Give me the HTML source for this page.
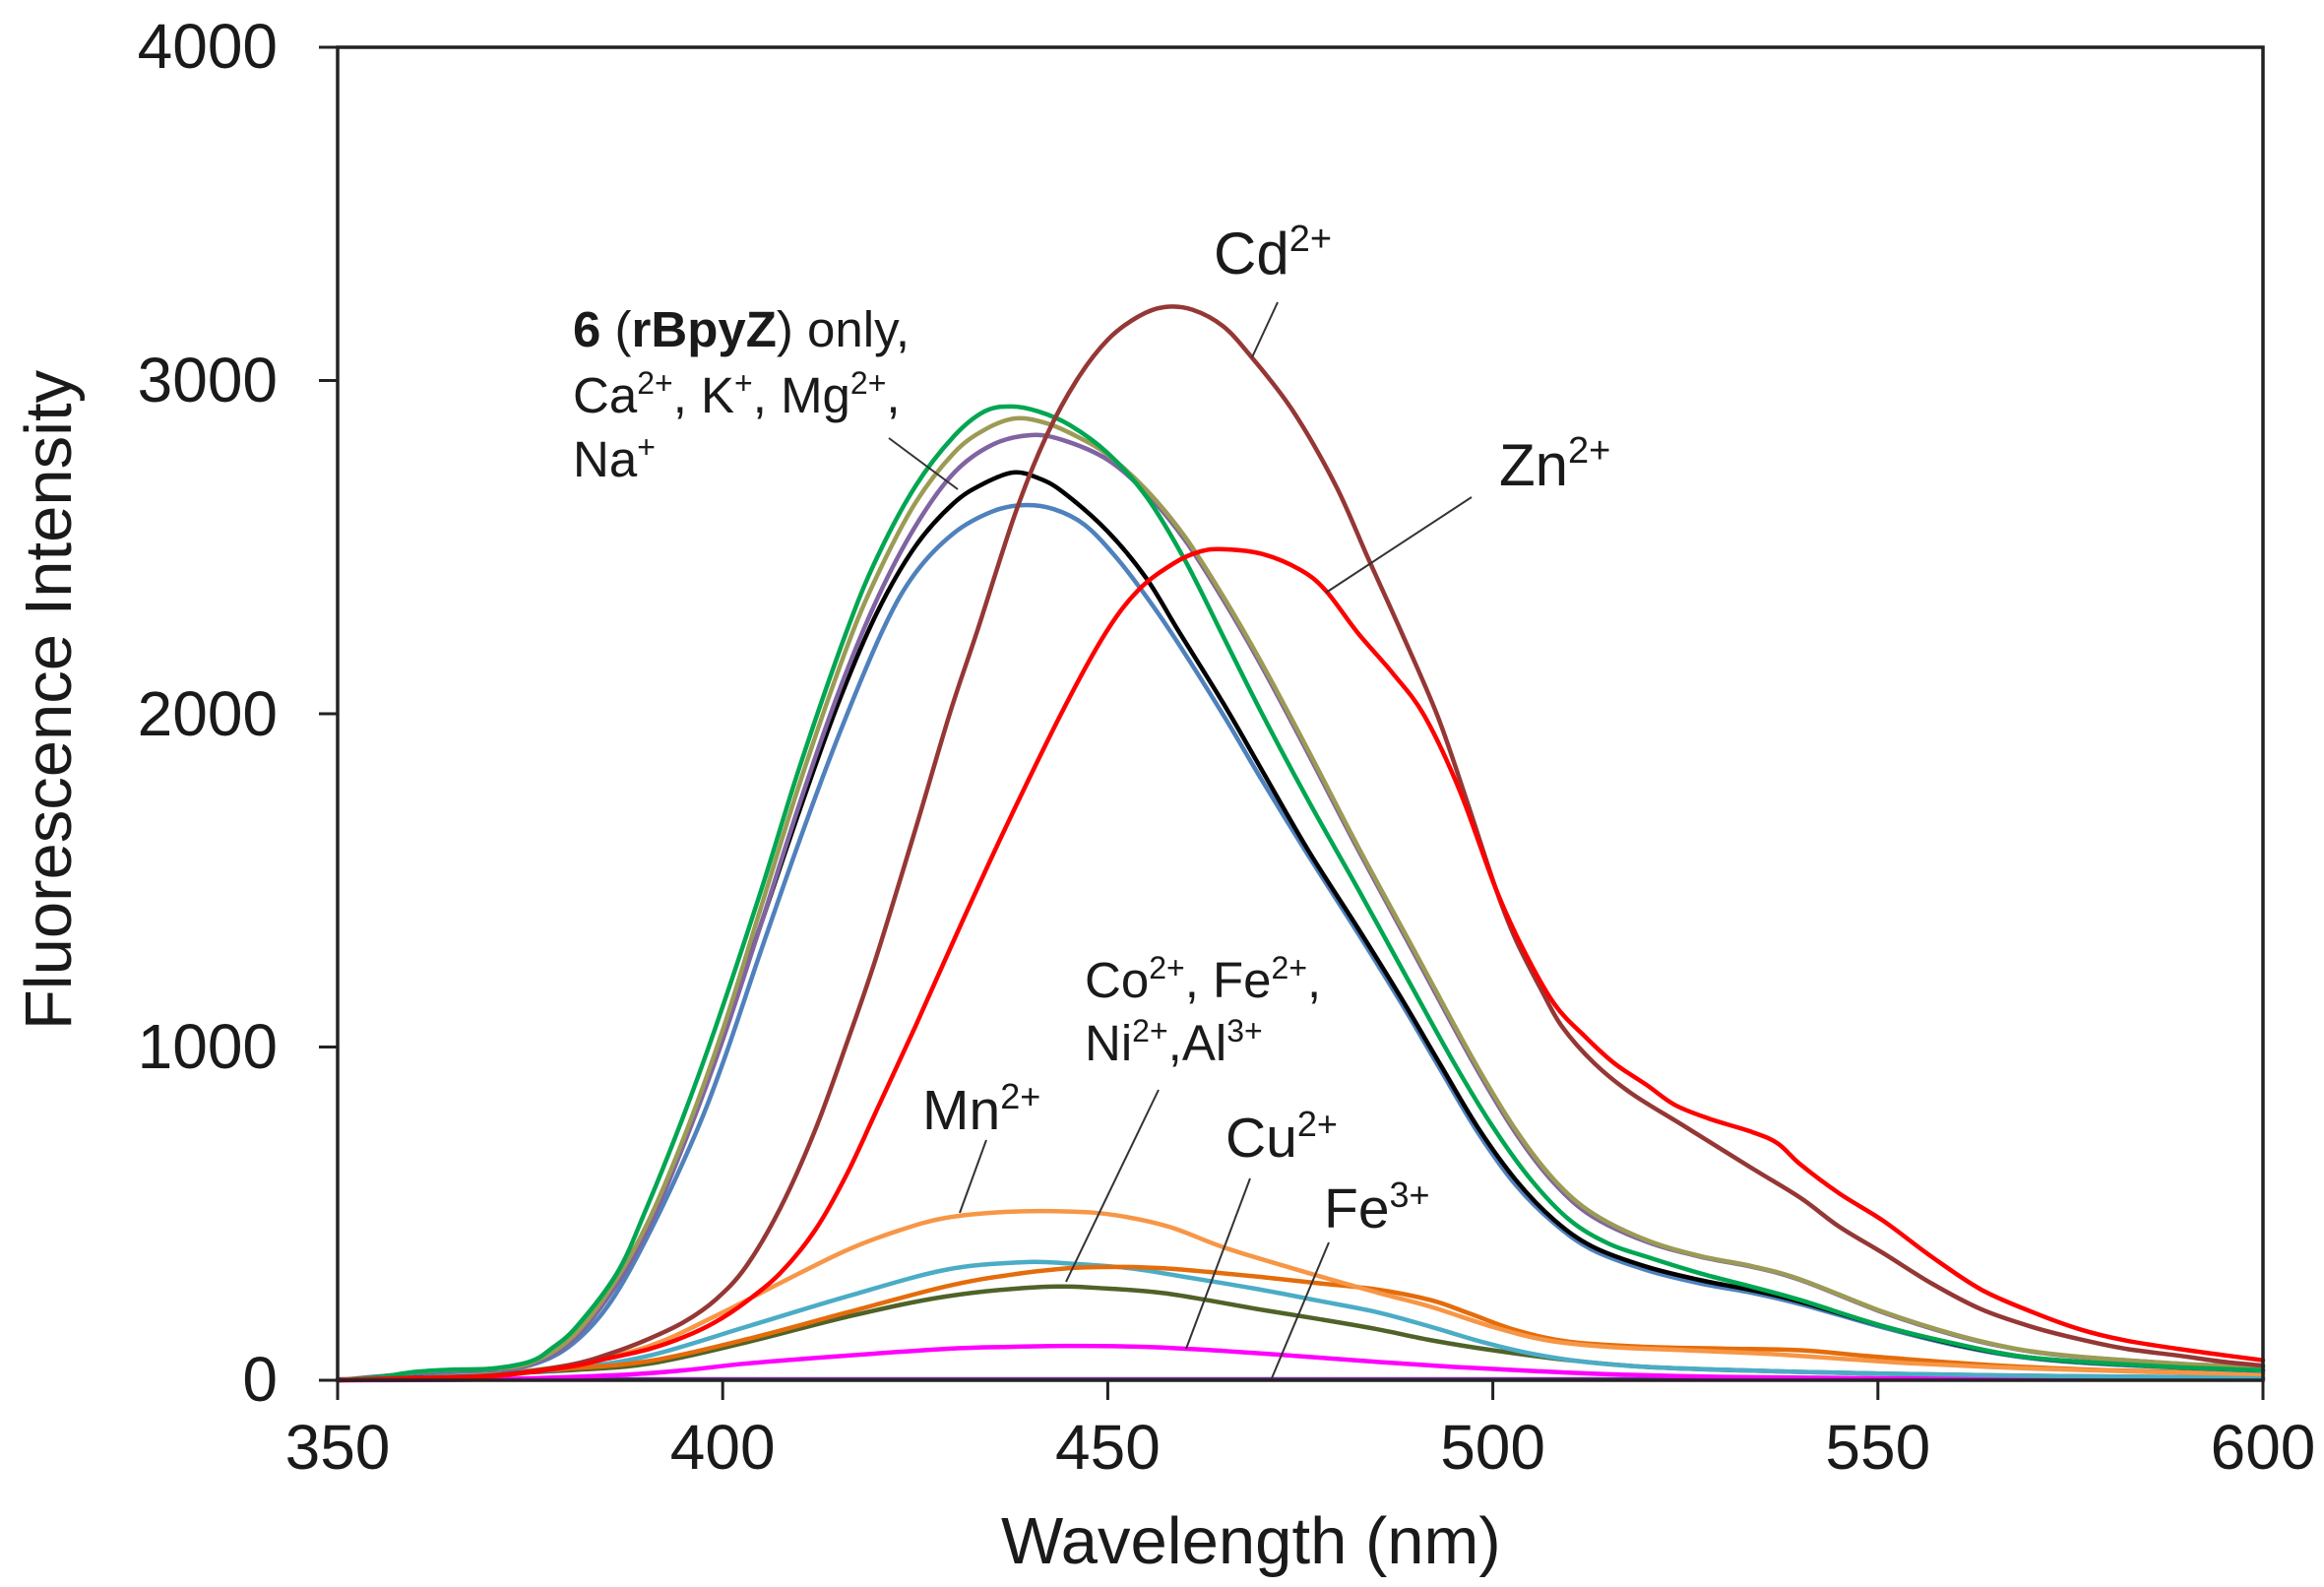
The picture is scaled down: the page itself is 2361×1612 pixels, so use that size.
<!DOCTYPE html>
<html>
<head>
<meta charset="utf-8">
<style>
  html, body { margin:0; padding:0; background:#fff; }
  svg { display:block; }
  text { font-family: "Liberation Sans", Arial, sans-serif; fill:#1a1a1a; }
  .s { fill:none; stroke-width:4.5; stroke-linejoin:round; stroke-linecap:round; vector-effect:non-scaling-stroke; }
</style>
</head>
<body>
<svg id="chart" width="2361" height="1612" viewBox="0 0 2361 1612" xmlns="http://www.w3.org/2000/svg">
  <rect x="0" y="0" width="2361" height="1612" fill="#fff"/>

  <!-- series -->
  <g transform="translate(343,1402) scale(7.824,-0.33875) translate(-350,0)">
    <!-- flat purple -->
    <polyline class="s" stroke="#7030A0" points="350,3 600,3"/>
    <!-- magenta -->
    <polyline class="s" stroke="#FF00FF" points="350,0 370,3 386,15 395,30 403,50 415,72 429,94 437,100 445,103 455,100 465,88 475,72 485,55 495,40 505,28 515,18 530,10 550,6 575,4 600,3"/>
    <!-- dark olive -->
    <polyline class="s" stroke="#4F6228" points="350,0 360,15 370,20 380,30 390.5,50 403.3,115 416.1,190 428.9,251 441.6,280 450,275 457,262 463,240 469.8,212 477,185 485,153 492,120 500,90 510,60 520,40 535,28 550,20 575,12 600,8"/>
    <!-- cyan -->
    <polyline class="s" stroke="#4BACC6" points="350,0 360,15 370,20 380,35 390.5,74 403.3,162 416.1,251 428.9,331 439,354 445,350 452.8,336 460,310 469.8,272 477,240 485,204 492,160 498.6,115 505,80 512,55 520,40 535,28 550,20 575,12 600,8"/>
    <!-- dark orange -->
    <polyline class="s" stroke="#E46C0A" points="350,0 360,20 370,25 380,35 390.5,58 403.3,124 416.1,203 428.9,281 437,315 445,336 451,340 457,336 463,325 469.8,310 477,292 485,272 492,240 497,200 503,150 510,115 520,100 530,95 540,90 550,70 565,45 580,30 600,20"/>
    <!-- Mn light orange -->
    <polyline class="s" stroke="#F79646" points="350,0 360,15 370,20 380,45 390.5,103 399,192 407.5,292 416.1,390 423,450 429,487 437,505 445,506 451,495 458,460 465.5,395 476,322 485,263 492,220 500,160 507,120 515,100 525,90 535,80 545,65 555,50 570,35 585,25 600,18"/>

    <!-- blue -->
    <polyline class="s" stroke="#4F81BD" points="350,0 360,20 370,30 375,45 380,100 385,220 390,420 396,714 400,950 405,1290 410,1620 415,1930 420.8,2250 425,2420 430,2540 435,2605 439,2624 443,2612 447,2565 451,2470 455,2350 459,2215 465,1995 470,1800 476,1575 482.5,1340 488,1135 493.1,935 498,745 503,585 508,470 513,390 520,330 527,290 533.7,262 540,228 550.7,158 560,105 567.8,72 575,55 584.8,42 600,28"/>
    <!-- black -->
    <polyline class="s" stroke="#000000" points="350,0 355,8 360,22 365,30 370,33 375,50 380,115 385,250 390,450 395,720 400,1030 405,1370 410,1710 415,2030 420,2300 425,2500 430,2630 434,2690 437.8,2722 441,2705 444.2,2663 450,2545 455,2405 459.1,2250 465,2030 470,1830 476,1590 482.5,1355 488,1150 493.1,950 498,760 503,600 508,480 513,400 520,340 527,300 533.7,270 540,235 550.7,162 560,108 567.8,74 575,57 584.8,44 592,36 600,30"/>
    <!-- purple -->
    <polyline class="s" stroke="#8064A2" points="350,0 355,8 360,22 365,30 370,33 375,48 380,110 385,245 390,440 395,710 400,1020 405,1370 410,1730 415,2060 420,2340 425,2560 430,2720 435,2805 440,2834 444.2,2819 450,2760 455,2660 460,2520 465,2340 470,2140 476,1880 482.5,1591 490,1270 497.5,950 503,740 508,590 513,490 520,415 527,370 533.7,340 540,300 550.7,203 560,135 567.8,94 575,72 584.8,56 592,46 600,40"/>
    <!-- olive -->
    <polyline class="s" stroke="#9B9B55" points="350,0 355,8 360,24 365,31 370,34 375,52 380,120 385,260 390,460 395,730 400,1050 405,1420 410,1790 416,2190 420,2410 425,2630 430,2780 434,2850 438,2884 442,2870 446,2830 450,2775 455,2670 460,2530 465,2350 470,2150 476,1890 482.5,1600 490,1280 497.5,960 503,750 508,600 513,500 520,420 527,372 533.7,342 540,302 550.7,205 560,137 567.8,95 575,73 584.8,56 592,46 600,40"/>
    <!-- green -->
    <polyline class="s" stroke="#00A651" points="350,0 355,8 360,25 365,32 370,35 375,56 377.7,94 381,160 386.3,322 390,510 394.7,780 399.1,1060 405,1470 410,1840 416,2240 420,2465 425,2680 430,2830 434,2905 437.5,2920 441,2905 445,2865 450,2780 455,2650 460,2460 465,2230 470,2000 476,1740 482.5,1473 489,1200 495,950 500,760 505,600 510,480 515,410 520,370 527,320 533.7,280 540,240 550.7,162 560,110 567.8,74 575,58 584.8,44 592,36 600,30"/>

    <!-- Cd -->
    <polyline class="s" stroke="#953735" points="350,0 360,8 370,15 380,45 386,85 390.5,125 395,175 399.1,242 403,340 407.5,517 412,750 416.1,1010 419.9,1266 425,1650 429.5,2000 433.1,2250 438,2600 442,2830 446,3000 450,3120 454,3190 457.4,3218 461,3210 465,3160 468.7,3067 474,2908 479.6,2683 483.8,2465 488,2250 492.8,1993 496.6,1739 500.4,1473 503,1320 506.4,1166 509,1060 513.2,950 518,860 525,760 533.7,635 540,546 545,460 550.7,381 557,290 563.4,213 570,160 576,124 582,95 589,74 595,55 600,44"/>
    <!-- Zn -->
    <polyline class="s" stroke="#FF0000" points="350,0 360,5 370,12 380,40 385,65 390.5,94 395,130 399,174 403,235 407.5,322 412,450 416.1,617 420,810 425,1060 431,1370 437,1670 444.2,2010 449.7,2240 454,2370 458.6,2450 462,2485 465,2492 470,2478 475,2430 478.3,2368 482.5,2240 487,2120 491.1,1993 495.7,1768 500.4,1473 504,1290 508,1128 512,1030 515.8,950 520,885 523.6,826 528,785 533.7,744 537,710 540,646 545,560 550.7,478 557,370 563.4,272 570,205 576.2,153 582,120 589,94 595,75 600,60"/>
  </g>

  <!-- axes frame -->
  <rect x="343" y="48" width="1956" height="1354" fill="none" stroke="#222" stroke-width="3.5"/>

  <!-- ticks -->
  <g stroke="#222" stroke-width="3">
    <line x1="324" y1="1402" x2="343" y2="1402"/>
    <line x1="324" y1="1063.5" x2="343" y2="1063.5"/>
    <line x1="324" y1="725" x2="343" y2="725"/>
    <line x1="324" y1="386.5" x2="343" y2="386.5"/>
    <line x1="324" y1="48" x2="343" y2="48"/>
    <line x1="343" y1="1402" x2="343" y2="1422"/>
    <line x1="734.2" y1="1402" x2="734.2" y2="1422"/>
    <line x1="1125.4" y1="1402" x2="1125.4" y2="1422"/>
    <line x1="1516.6" y1="1402" x2="1516.6" y2="1422"/>
    <line x1="1907.8" y1="1402" x2="1907.8" y2="1422"/>
    <line x1="2299" y1="1402" x2="2299" y2="1422"/>
  </g>

  <!-- y tick labels -->
  <g font-size="64" text-anchor="end">
    <text x="282" y="1423">0</text>
    <text x="282" y="1085">1000</text>
    <text x="282" y="747">2000</text>
    <text x="282" y="408">3000</text>
    <text x="282" y="69">4000</text>
  </g>
  <!-- x tick labels -->
  <g font-size="64" text-anchor="middle">
    <text x="343" y="1492">350</text>
    <text x="734.2" y="1492">400</text>
    <text x="1125.4" y="1492">450</text>
    <text x="1516.6" y="1492">500</text>
    <text x="1907.8" y="1492">550</text>
    <text x="2299" y="1492">600</text>
  </g>

  <!-- axis titles -->
  <text x="1017" y="1588" font-size="67">Wavelength (nm)</text>
  <text transform="translate(72,711) rotate(-90)" font-size="67" text-anchor="middle">Fluorescence Intensity</text>

  <!-- leader lines -->
  <g stroke="#333" stroke-width="2">
    <line x1="903" y1="445" x2="973" y2="497"/>
    <line x1="1298" y1="307" x2="1272" y2="363"/>
    <line x1="1495" y1="505" x2="1347" y2="602"/>
    <line x1="1002" y1="1158" x2="975" y2="1232"/>
    <line x1="1177" y1="1107" x2="1083" y2="1302"/>
    <line x1="1270" y1="1197" x2="1205" y2="1370"/>
    <line x1="1350" y1="1262" x2="1292" y2="1400"/>
  </g>

  <!-- annotations -->
  <text x="582" y="352" font-size="51"><tspan font-weight="bold">6</tspan> (<tspan font-weight="bold">rBpyZ</tspan>) only,</text>
  <text x="582" y="419" font-size="51">Ca<tspan dy="-19" font-size="32">2+</tspan><tspan dy="19">, K</tspan><tspan dy="-19" font-size="32">+</tspan><tspan dy="19">, Mg</tspan><tspan dy="-19" font-size="32">2+</tspan><tspan dy="19">,</tspan></text>
  <text x="582" y="484" font-size="51">Na<tspan dy="-19" font-size="32">+</tspan></text>

  <text x="1233" y="278" font-size="60">Cd<tspan dy="-23" font-size="38">2+</tspan></text>
  <text x="1523" y="493" font-size="60">Zn<tspan dy="-23" font-size="38">2+</tspan></text>

  <text x="1102" y="1013" font-size="51">Co<tspan dy="-19" font-size="32">2+</tspan><tspan dy="19">, Fe</tspan><tspan dy="-19" font-size="32">2+</tspan><tspan dy="19">,</tspan></text>
  <text x="1102" y="1077" font-size="51">Ni<tspan dy="-19" font-size="32">2+</tspan><tspan dy="19">,Al</tspan><tspan dy="-19" font-size="32">3+</tspan></text>

  <text x="937" y="1147" font-size="57">Mn<tspan dy="-21" font-size="36">2+</tspan></text>
  <text x="1245" y="1175" font-size="57">Cu<tspan dy="-21" font-size="36">2+</tspan></text>
  <text x="1345" y="1247" font-size="57">Fe<tspan dy="-21" font-size="36">3+</tspan></text>
</svg>
<script>
(function(){
  var NS = "http://www.w3.org/2000/svg";
  var pls = document.querySelectorAll("polyline.s");
  for (var k = 0; k < pls.length; k++) {
    var pl = pls[k];
    var raw = pl.getAttribute("points").trim().split(/\s+/);
    var p = raw.map(function(s){ var a = s.split(","); return [parseFloat(a[0]), parseFloat(a[1])]; });
    if (p.length < 3) continue;
    var d = "M" + p[0][0] + "," + p[0][1];
    for (var i = 0; i < p.length - 1; i++) {
      var p0 = p[i-1] || p[i], p1 = p[i], p2 = p[i+1], p3 = p[i+2] || p[i+1];
      var c1x = p1[0] + (p2[0]-p0[0])/6, c1y = p1[1] + (p2[1]-p0[1])/6;
      var c2x = p2[0] - (p3[0]-p1[0])/6, c2y = p2[1] - (p3[1]-p1[1])/6;
      d += " C" + c1x.toFixed(3) + "," + c1y.toFixed(2) + " " + c2x.toFixed(3) + "," + c2y.toFixed(2) + " " + p2[0] + "," + p2[1];
    }
    var path = document.createElementNS(NS, "path");
    path.setAttribute("d", d);
    path.setAttribute("class", "s");
    path.setAttribute("stroke", pl.getAttribute("stroke"));
    pl.parentNode.replaceChild(path, pl);
  }
})();
</script>
</body>
</html>
